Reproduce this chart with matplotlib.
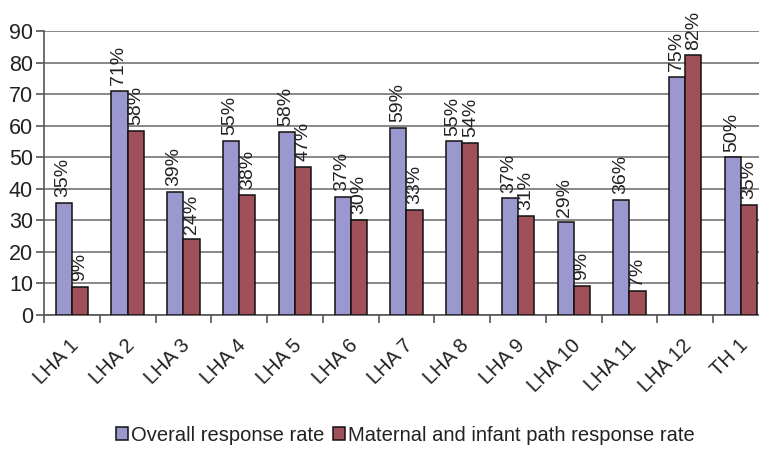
import numpy as np
import matplotlib.pyplot as plt
import matplotlib.transforms as mtransforms
from matplotlib.ticker import FixedLocator

plt.rcParams['font.family'] = ['Liberation Sans', 'DejaVu Sans']

categories = ["LHA 1", "LHA 2", "LHA 3", "LHA 4", "LHA 5", "LHA 6", "LHA 7",
              "LHA 8", "LHA 9", "LHA 10", "LHA 11", "LHA 12", "TH 1"]
overall = [35.5, 71, 39, 55.3, 58, 37.5, 59.4, 55, 37, 29.4, 36.4, 75.5, 50]
maternal = [9, 58.4, 24, 38, 47, 30.2, 33.4, 54.5, 31.5, 9.3, 7.5, 82.3, 35]
overall_labels = ["35%", "71%", "39%", "55%", "58%", "37%", "59%",
                  "55%", "37%", "29%", "36%", "75%", "50%"]
maternal_labels = ["9%", "58%", "24%", "38%", "47%", "30%", "33%",
                   "54%", "31%", "9%", "7%", "82%", "35%"]

c_overall = "#9b98d0"
c_maternal = "#9f5059"

fig = plt.figure(figsize=(7.59, 4.49), dpi=100)
ax = fig.add_axes([0.058, 0.2984, 0.955, 0.6325])

x = np.arange(len(categories))
w = 0.29
b1 = ax.bar(x - w / 2, overall, w, color=c_overall, edgecolor="#111111",
            linewidth=1.1, label="Overall response rate", zorder=3)
b2 = ax.bar(x + w / 2, maternal, w, color=c_maternal, edgecolor="#111111",
            linewidth=1.1, label="Maternal and infant path response rate", zorder=3)

for xi, v, lab in zip(x - w / 2, overall, overall_labels):
    ax.text(xi - 0.02, v + 1.8, lab, rotation=90, ha="center", va="bottom",
            fontsize=14, color="#222222", zorder=4)
for xi, v, lab in zip(x + w / 2, maternal, maternal_labels):
    ax.text(xi, v + 1.8, lab, rotation=90, ha="center", va="bottom",
            fontsize=14, color="#222222", zorder=4)

ax.set_xlim(-0.5, len(categories) - 0.5)
ax.set_ylim(0, 90)
ax.set_yticks(np.arange(0, 91, 10))
ax.yaxis.grid(True, color="#7f7f7f", linewidth=1.3, zorder=0)
ax.set_axisbelow(True)

# category labels, slanted, drawn as text so they can sit a little lower/left
ax.set_xticks(x)
ax.set_xticklabels([])
lab_trans = mtransforms.offset_copy(ax.get_xaxis_transform(), fig=fig,
                                    x=-3, y=-21, units="dots")
for xi, name in zip(x, categories):
    ax.text(xi, 0, name, transform=lab_trans, rotation=45, ha="right", va="top",
            rotation_mode="anchor", fontsize=14.5, color="#222222", clip_on=False)

ax.xaxis.set_minor_locator(FixedLocator(np.arange(-0.5, len(categories), 1)))
ax.tick_params(axis="x", which="major", length=0)
ax.tick_params(axis="x", which="minor", length=6, width=1.2, color="#555555")
ax.tick_params(axis="y", length=6, width=1.2, color="#555555", labelsize=15.5,
               labelcolor="#222222", pad=2)

for s in ["top", "right"]:
    ax.spines[s].set_visible(False)
ax.spines["left"].set_color("#555555")
ax.spines["left"].set_linewidth(1.2)
ax.spines["bottom"].set_color("#555555")
ax.spines["bottom"].set_linewidth(1.2)

leg = fig.legend(handles=[b1, b2], loc="center", bbox_to_anchor=(0.534, 0.031),
                 ncol=2, frameon=False, fontsize=14.5, handlelength=0.6,
                 handleheight=0.6, handletextpad=0.15, columnspacing=0.45)
for t in leg.get_texts():
    t.set_color("#222222")

fig.savefig("out.png", dpi=100)
